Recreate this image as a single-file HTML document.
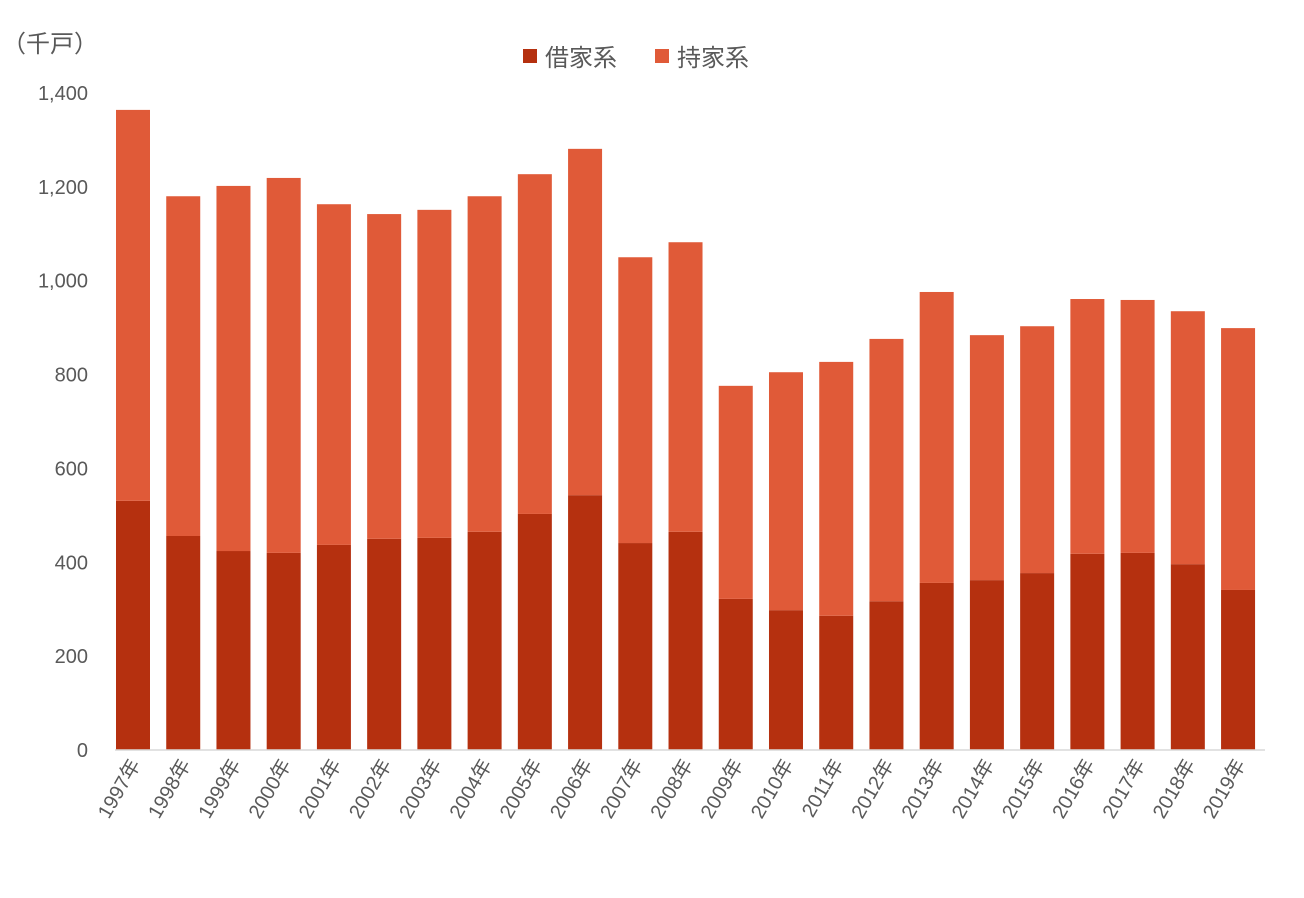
<!DOCTYPE html>
<html><head><meta charset="utf-8"><style>
body{margin:0;background:#fff;}
svg text{font-family:"Liberation Sans","Noto Sans CJK JP",sans-serif;fill:#595959;}
</style></head><body>
<svg id="chart" width="1304" height="893" xmlns="http://www.w3.org/2000/svg">
<text x="2" y="52" font-size="24">（千戸）</text>
<g>
<rect x="523" y="49" width="14" height="14" fill="#B5300F"/>
<text x="545" y="66" font-size="24">借家系</text>
<rect x="655" y="49" width="14" height="14" fill="#E05A38"/>
<text x="677" y="66" font-size="24">持家系</text>
</g>
<g id="yaxis"></g><g id="bars"></g><g id="xaxis"></g>
<line x1="115" y1="750" x2="1265" y2="750" stroke="#d9d9d9" stroke-width="1.5"/>
</svg>
<script>
const categories=["1997年","1998年","1999年","2000年","2001年","2002年","2003年","2004年","2005年","2006年","2007年","2008年","2009年","2010年","2011年","2012年","2013年","2014年","2015年","2016年","2017年","2018年","2019年"];
const rental=[531,456,424,420,437,450,452,465,503,543,441,465,322,298,286,317,356,362,377,418,420,396,341];
const owned=[833,724,778,799,726,692,699,715,724,738,609,617,454,507,541,559,620,522,526,543,539,539,558];
const yTicks=[0,200,400,600,800,1000,1200,1400];
const NS="http://www.w3.org/2000/svg";
const y0=750,yTop=93,yMax=1400,xStart=133,step=50.23,bw=34;
function y(v){return y0-(v/yMax)*(y0-yTop);}
function x(i){return xStart+i*step;}
const ya=document.getElementById('yaxis'),bars=document.getElementById('bars'),xa=document.getElementById('xaxis');
yTicks.forEach(t=>{
 const tx=document.createElementNS(NS,'text');
 
 
 tx.setAttribute('x',88);tx.setAttribute('y',y(t)+7);tx.setAttribute('text-anchor','end');tx.setAttribute('font-size','20');
 tx.textContent=t.toLocaleString('en-US');ya.appendChild(tx);
});
categories.forEach((c,i)=>{
 const r=document.createElementNS(NS,'rect');
 
 
 r.setAttribute('x',x(i)-bw/2);r.setAttribute('y',y(rental[i]));r.setAttribute('width',bw);r.setAttribute('height',y0-y(rental[i]));r.setAttribute('fill','#B5300F');bars.appendChild(r);
 const o=document.createElementNS(NS,'rect');
 
 
 o.setAttribute('x',x(i)-bw/2);o.setAttribute('y',y(rental[i]+owned[i]));o.setAttribute('width',bw);o.setAttribute('height',y(rental[i])-y(rental[i]+owned[i]));o.setAttribute('fill','#E05A38');bars.appendChild(o);
 const t=document.createElementNS(NS,'text');
 
 
 t.setAttribute('font-size','20');t.setAttribute('text-anchor','end');
 t.setAttribute('transform','translate('+(x(i)+8)+',764) rotate(-60)');
 t.textContent=c;xa.appendChild(t);
});
</script>
</body></html>
